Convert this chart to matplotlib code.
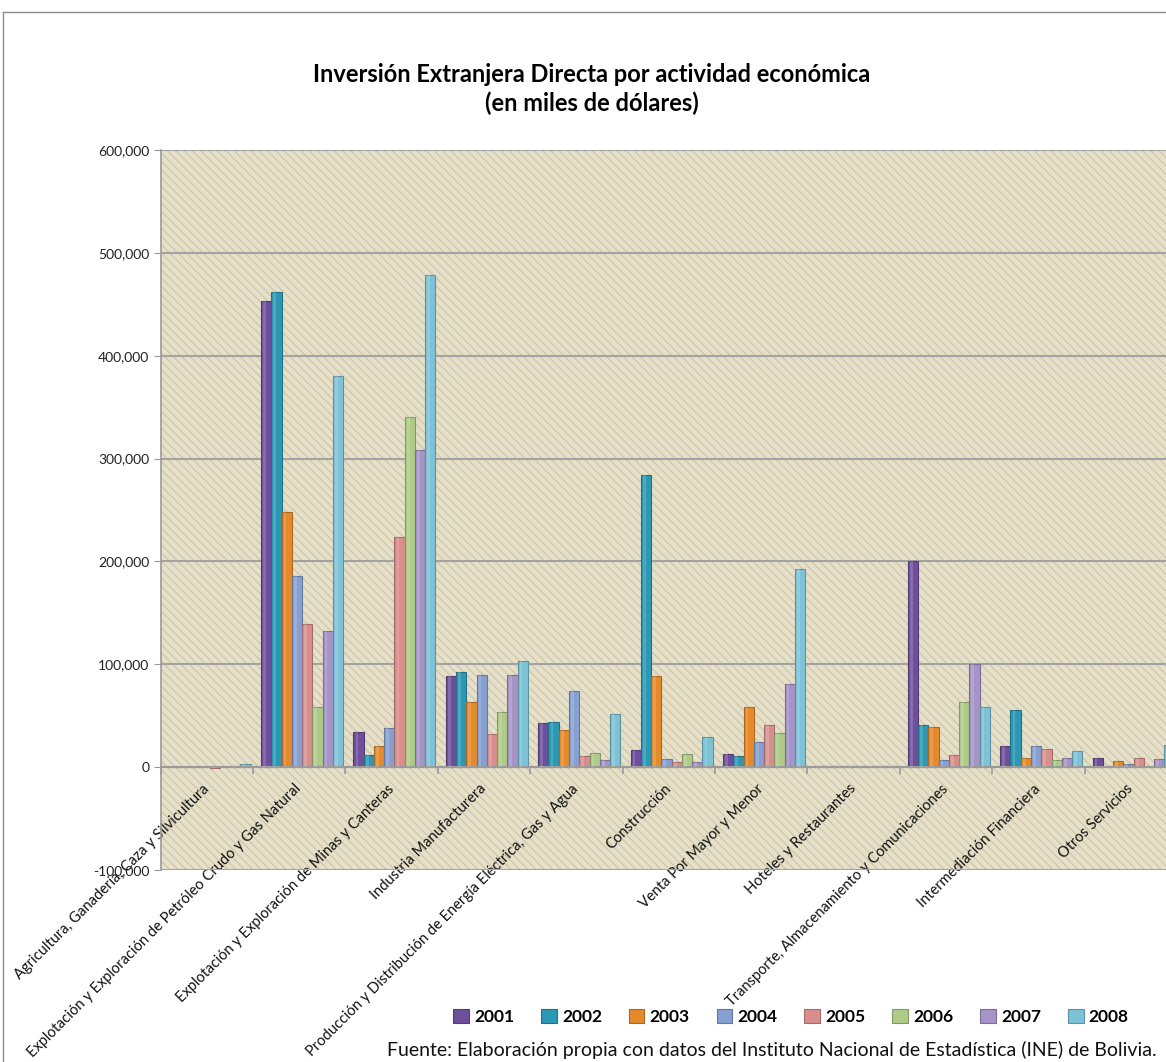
import matplotlib
matplotlib.use('Agg')
import matplotlib.pyplot as plt
import numpy as np
from matplotlib.patches import Rectangle
from matplotlib.lines import Line2D
from matplotlib.ticker import FuncFormatter, FixedLocator
import matplotlib.colors as mcolors

categories = [
    "Agricultura, Ganadería, Caza y Silvicultura",
    "Explotación y Exploración de Petróleo Crudo y Gas Natural",
    "Explotación y Exploración de Minas y Canteras",
    "Industria Manufacturera",
    "Producción y Distribución de Energía Eléctrica, Gas y Agua",
    "Construcción",
    "Venta Por Mayor y Menor",
    "Hoteles y Restaurantes",
    "Transporte, Almacenamiento y Comunicaciones",
    "Intermediación Financiera",
    "Otros Servicios",
]
years = ["2001", "2002", "2003", "2004", "2005", "2006", "2007", "2008"]

v2001 = [0, 453000, 34000, 88600, 42500, 17000, 12400, 1000, 200000, 21000, 8500]
v2002 = [0, 462000, 12000, 92500, 44000, 284000, 10500, 1000, 40600, 55500, 1500]
v2003 = [0, 248000, 21000, 63000, 36000, 89000, 58000, 1000, 39000, 9000, 6000]
v2004 = [0, 186000, 38000, 90000, 74000, 7500, 24000, 1000, 7000, 21000, 3500]
v2005 = [-500, 139000, 224000, 32000, 10700, 4600, 41000, 1000, 12000, 18000, 8500]
v2006 = [0, 58000, 340000, 53500, 14000, 13000, 33000, 1000, 63000, 7000, 500]
v2007 = [1000, 132000, 308000, 90000, 6800, 4600, 81000, 1000, 100000, 8500, 8000]
v2008 = [3500, 380000, 478000, 103000, 52000, 29000, 193000, 1000, 58000, 16000, 22000]
series = [v2001, v2002, v2003, v2004, v2005, v2006, v2007, v2008]

colors = ['#6E4F9C', '#2C98B3', '#E58A2B', '#86A0D2', '#D98E8E', '#AECB88', '#A594C6', '#7DC2D6']

yticks = [-100000, 0, 100000, 200000, 300000, 400000, 500000, 600000]

title1 = "Inversión Extranjera Directa por actividad económica"
title2 = "(en miles de dólares)"
source = "Fuente: Elaboración propia con datos del Instituto Nacional de Estadística (INE) de Bolivia."


def darker(c, f=0.75):
    r, g, b = mcolors.to_rgb(c)
    return (r * f, g * f, b * f)


plt.rcParams['font.family'] = ['Lato', 'DejaVu Sans']
plt.rcParams['hatch.linewidth'] = 0.8

W, H = 1166, 1062
fig = plt.figure(figsize=(W / 100, H / 100), dpi=100)
fig.patch.set_facecolor('white')

ax = fig.add_axes([160.6 / W, 1 - 870 / H, 1016.4 / W, 720 / H])
ax.set_facecolor('#E6E0CB')
ax.add_patch(Rectangle((0, 0), 1, 1, transform=ax.transAxes, facecolor='none',
                       edgecolor='#CBC3A2', hatch='\\\\\\\\', lw=0, zorder=0.1))

n = len(categories)
bw = 0.111
for j, (vals, col) in enumerate(zip(series, colors)):
    x = np.arange(n) + 0.087 + bw * (j + 0.5)
    ax.bar(x, vals, width=bw, color=col, edgecolor=darker(col), lw=0.8, zorder=2)
    ax.bar(x - 0.018, vals, width=0.03, color='white', alpha=0.16, lw=0, zorder=3)

ax.set_xlim(0, n)
ax.set_ylim(-100000, 600000)

ax.yaxis.set_major_locator(FixedLocator(yticks))
ax.yaxis.set_major_formatter(FuncFormatter(lambda v, p: f"{int(v):,}"))
ax.yaxis.grid(True, color='#A3A3A3', lw=1.5)
ax.set_axisbelow(True)

ax.spines['top'].set_visible(False)
ax.spines['right'].set_visible(False)
ax.spines['left'].set_color('#9A9A9A')
ax.spines['left'].set_linewidth(1.2)
ax.spines['bottom'].set_position(('data', 0))
ax.spines['bottom'].set_color('#9A9A9A')
ax.spines['bottom'].set_linewidth(1.5)

ax.tick_params(axis='y', length=5, color='#9A9A9A', labelsize=10, labelcolor='#222222', pad=3)
ax.set_xticks(np.arange(n) + 0.5)
ax.set_xticks(np.arange(n + 1), minor=True)
ax.tick_params(axis='x', which='major', length=0, pad=14, labelsize=10.5, labelcolor='#111111')
ax.tick_params(axis='x', which='minor', length=5, color='#9A9A9A', width=1.2)
ax.set_xticklabels(categories, rotation=45, ha='right', va='center', rotation_mode='anchor')

fig.text(592 / W, 1 - 75 / H, title1, ha='center', va='center', fontsize=17, fontweight='bold')
fig.text(592 / W, 1 - 103 / H, title2, ha='center', va='center', fontsize=17, fontweight='bold')

handles = [Rectangle((0, 0), 1, 1, facecolor=c, edgecolor=darker(c), lw=0.8) for c in colors]
fig.legend(handles, years, loc='center', bbox_to_anchor=(791 / W, 1 - 1017 / H), ncol=8,
           frameon=False, prop=dict(weight='bold', size=12.5), handlelength=0.9,
           handleheight=0.9, handletextpad=0.3, columnspacing=1.55)

fig.text(1157 / W, 1 - 1050 / H, source, ha='right', va='center', fontsize=14, color='#111111')

fig.add_artist(Line2D([3 / W, 3 / W], [0, 1 - 12 / H], color='#8C8C8C', lw=1))
fig.add_artist(Line2D([3 / W, 1], [1 - 12 / H, 1 - 12 / H], color='#8C8C8C', lw=1))

fig.savefig('out.png', dpi=100)
